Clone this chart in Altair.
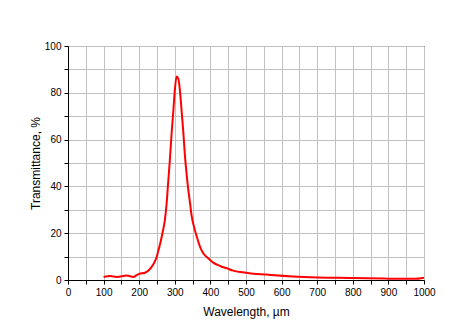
import altair as alt
import pandas as pd

wavelength = [100, 118, 137, 165, 184, 193, 200, 216, 226, 235, 242, 249, 254, 260, 266, 272, 277, 281, 286, 291, 296, 300, 305, 310, 315, 319, 324, 328, 333, 338, 343, 347, 354, 362, 371, 380, 394, 408, 427, 446, 464, 492, 520, 558, 581, 631, 703, 800, 890, 973, 1000]
transmittance = [1.3, 1.7, 1.3, 1.9, 1.3, 2.1, 2.6, 3.1, 4.1, 5.6, 7.3, 9.8, 12.7, 16.2, 20.5, 25.5, 32.6, 41, 51, 62.6, 72.5, 81, 87, 86, 80, 72.5, 63, 54, 45.6, 38.5, 32.6, 27.7, 22.7, 18.4, 14.2, 11.4, 9.3, 7.4, 6.0, 5.0, 4.0, 3.3, 2.7, 2.3, 2.0, 1.5, 1.1, 0.9, 0.6, 0.5, 1.0]

x_ticks = list(range(0, 1001, 50))
y_ticks = list(range(0, 101, 10))

df = pd.DataFrame({"w": wavelength, "t": transmittance})

font = "Liberation Sans"

chart = alt.Chart(df).mark_line(color="#ff0000", strokeWidth=2, interpolate="monotone").encode(
    x=alt.X("w:Q", scale=alt.Scale(domain=[0, 1000], nice=False),
            axis=alt.Axis(values=x_ticks, title="Wavelength, µm",
                          labelExpr="datum.value % 100 == 0 ? datum.label : ''",
                          format="d", labelFlush=False)),
    y=alt.Y("t:Q", scale=alt.Scale(domain=[0, 100], nice=False),
            axis=alt.Axis(values=y_ticks, title="Transmittance, %",
                          labelExpr="datum.value % 20 == 0 ? datum.label : ''",
                          format="d")),
).properties(
    width=356, height=234,
    autosize=alt.AutoSizeParams(type="none"),
    padding={"left": 60, "top": 38, "right": 35, "bottom": 42},
).configure_view(
    stroke="black", strokeWidth=1
).configure_axis(
    domainColor="black", domainWidth=1,
    tickColor="black", tickSize=4, tickWidth=1,
    gridColor="#c0c0c0", gridWidth=1, gridOpacity=1,
    labelFont=font, labelFontSize=10, labelColor="black", labelPadding=3,
    titleFont=font, titleFontSize=12, titleFontWeight="normal", titleColor="black",
).configure_axisX(
    titlePadding=9,
).configure_axisY(
    titlePadding=2,
)

chart.save("out.html", embed_options={"renderer": "svg", "actions": False})
